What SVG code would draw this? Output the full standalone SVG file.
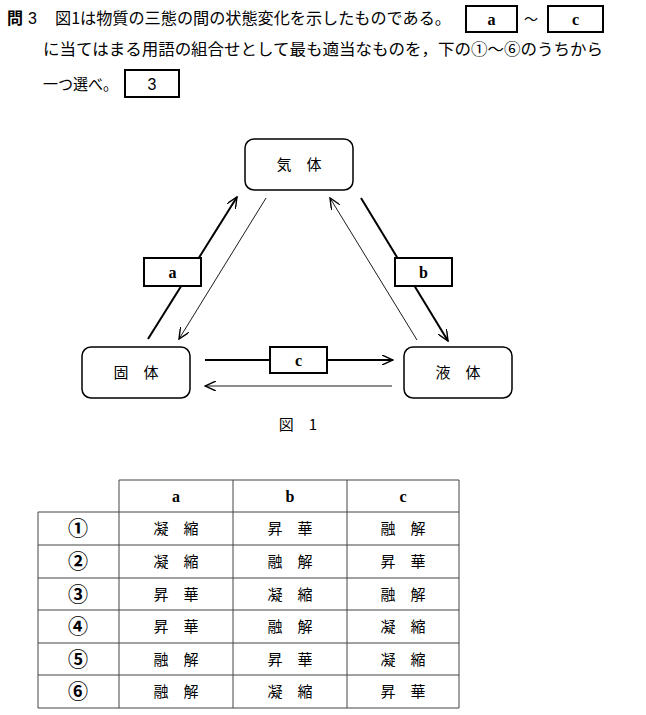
<svg xmlns="http://www.w3.org/2000/svg" width="646" height="715" viewBox="0 0 646 715">
<defs>
<style>
.jp{font-family:"Noto Sans CJK JP","Noto Sans",sans-serif;fill:#000}
.lat{font-family:"Liberation Serif",serif;font-weight:bold;fill:#000}
.box{fill:#fff;stroke:#000;stroke-width:2}
.node{fill:#fff;stroke:#000;stroke-width:1.5}
.thick{stroke:#000;stroke-width:2;fill:none}
.thin{stroke:#000;stroke-width:0.9;fill:none}
.grid{stroke:#444;stroke-width:1;fill:none}
</style>
<marker id="ah" viewBox="0 0 12 10" refX="11" refY="5" markerWidth="12" markerHeight="10" markerUnits="userSpaceOnUse" orient="auto">
<path d="M0,0 L11,5 L0,10" fill="none" stroke="#000" stroke-width="1.4"/>
</marker>
</defs>
<rect width="646" height="715" fill="#fff"/>
<g id="question">
<text x="7" y="24" class="jp" font-size="16" font-weight="bold">問</text>
<text x="28" y="24" font-family="Liberation Sans,sans-serif" font-size="16">3</text>
<text x="55" y="24" class="jp" font-size="16" textLength="396" lengthAdjust="spacingAndGlyphs">図1は物質の三態の間の状態変化を示したものである。</text>
<rect x="466" y="6" width="51" height="26" class="box"/>
<text x="491.5" y="25" class="lat" font-size="16" text-anchor="middle">a</text>
<text x="531" y="24" class="jp" font-size="14" text-anchor="middle">～</text>
<rect x="548" y="6" width="55" height="26" class="box"/>
<text x="575.5" y="25" class="lat" font-size="16" text-anchor="middle">c</text>
<text x="43" y="55" class="jp" font-size="16" textLength="560" lengthAdjust="spacingAndGlyphs">に当てはまる用語の組合せとして最も適当なものを，下の①～⑥のうちから</text>
<text x="43" y="90" class="jp" font-size="16" textLength="75" lengthAdjust="spacingAndGlyphs">一つ選べ。</text>
<rect x="125" y="70" width="54" height="27" class="box"/>
<text x="152" y="90" font-family="Liberation Sans,sans-serif" font-size="16" text-anchor="middle">3</text>
</g>
<g id="connectors">
<line x1="148" y1="339" x2="237" y2="197" class="thick" marker-end="url(#ah)"/>
<line x1="266" y1="198" x2="179" y2="339" class="thin" marker-end="url(#ah)"/>
<line x1="417" y1="340" x2="330" y2="198" class="thin" marker-end="url(#ah)"/>
<line x1="361" y1="198" x2="448" y2="341" class="thick" marker-end="url(#ah)"/>
<line x1="205" y1="360" x2="393" y2="360" class="thick" marker-end="url(#ah)"/>
<line x1="392" y1="386" x2="205" y2="386" class="thin" marker-end="url(#ah)"/>
</g>
<g id="label-a"><rect x="144" y="258" width="57" height="28" class="box"/><text x="172.5" y="278" class="lat" font-size="16" text-anchor="middle">a</text></g>
<g id="label-b"><rect x="395" y="258" width="57" height="28" class="box"/><text x="423.5" y="278" class="lat" font-size="16" text-anchor="middle">b</text></g>
<g id="label-c"><rect x="270" y="347" width="57" height="26" class="box"/><text x="298.5" y="366" class="lat" font-size="16" text-anchor="middle">c</text></g>
<g id="node-gas"><rect x="245" y="139" width="108" height="51" rx="9" class="node"/><text x="299" y="170" class="jp" font-size="15" text-anchor="middle">気　体</text></g>
<g id="node-solid"><rect x="82" y="347" width="108" height="51" rx="9" class="node"/><text x="136" y="378" class="jp" font-size="15" text-anchor="middle">固　体</text></g>
<g id="node-liquid"><rect x="404" y="347" width="108" height="51" rx="9" class="node"/><text x="458" y="378" class="jp" font-size="15" text-anchor="middle">液　体</text></g>
<text x="298" y="430" class="jp" font-size="15" text-anchor="middle">図　1</text>
<g id="table">
<path class="grid" d="M119,480 H459 M38,512 H459 M38,545 H459 M38,578 H459 M38,610 H459 M38,643 H459 M38,675 H459 M38,708 H459 M38,512 V708 M119,480 V708 M233,480 V708 M347,480 V708 M459,480 V708"/>
<g class="lat" font-size="16" text-anchor="middle">
<text x="176" y="502">a</text><text x="290" y="502">b</text><text x="403" y="502">c</text>
</g>
<g class="jp" font-size="20" font-weight="bold" text-anchor="middle">
<text x="78" y="536">①</text><text x="78" y="569">②</text><text x="78" y="602">③</text><text x="78" y="634">④</text><text x="78" y="667">⑤</text><text x="78" y="699">⑥</text>
</g>
<g class="jp" font-size="15" text-anchor="middle">
<text x="176" y="534">凝　縮</text><text x="290" y="534">昇　華</text><text x="403" y="534">融　解</text>
<text x="176" y="567">凝　縮</text><text x="290" y="567">融　解</text><text x="403" y="567">昇　華</text>
<text x="176" y="600">昇　華</text><text x="290" y="600">凝　縮</text><text x="403" y="600">融　解</text>
<text x="176" y="632">昇　華</text><text x="290" y="632">融　解</text><text x="403" y="632">凝　縮</text>
<text x="176" y="665">融　解</text><text x="290" y="665">昇　華</text><text x="403" y="665">凝　縮</text>
<text x="176" y="697">融　解</text><text x="290" y="697">凝　縮</text><text x="403" y="697">昇　華</text>
</g>
</g>
</svg>
